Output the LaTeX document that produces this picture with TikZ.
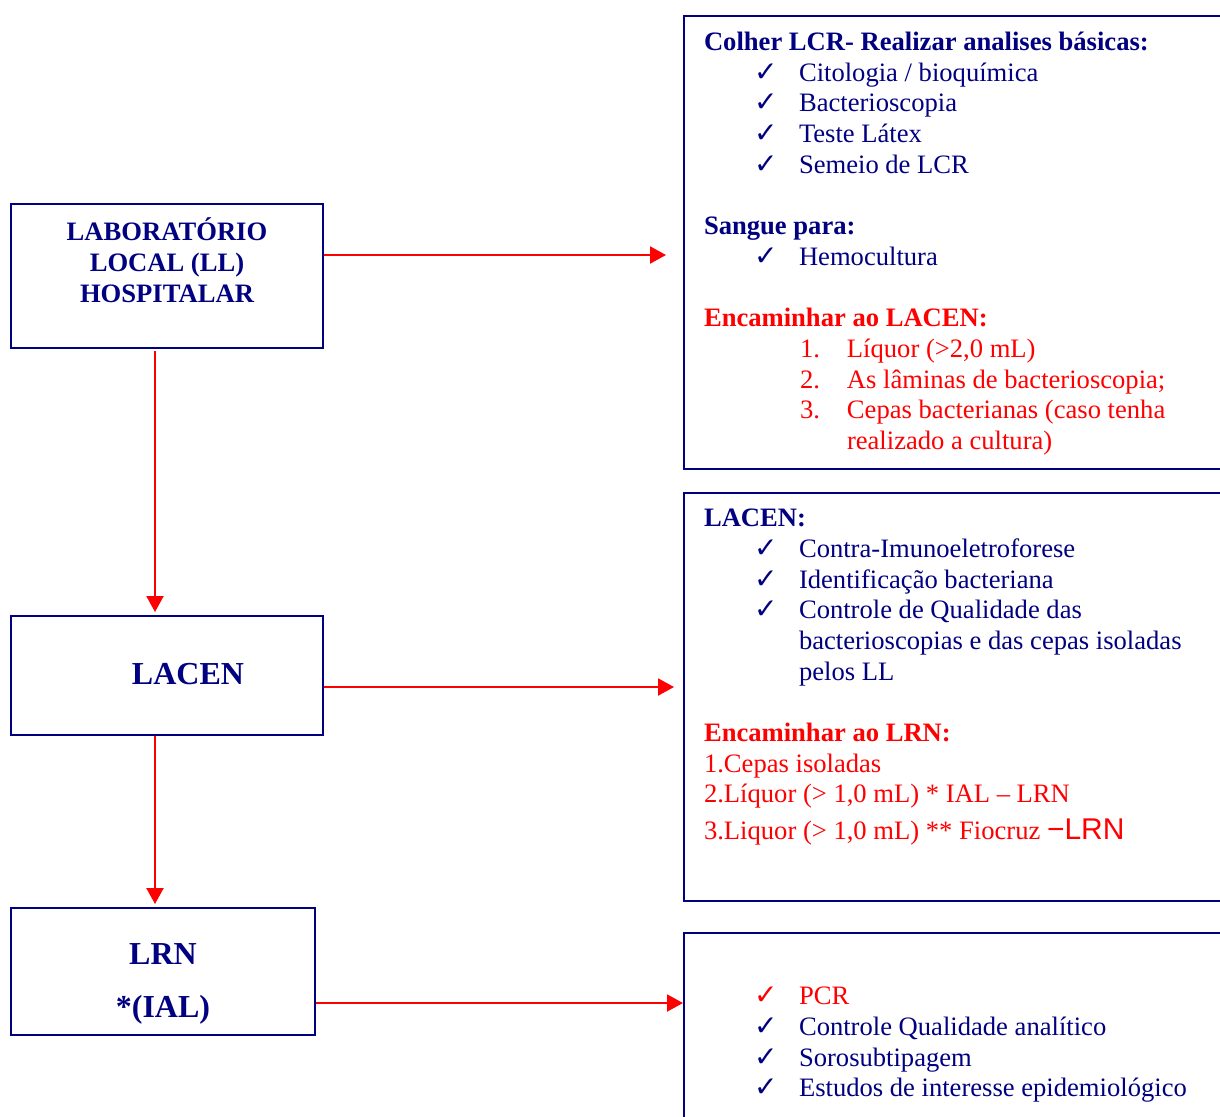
\documentclass[tikz,border=0pt]{standalone}
\usepackage{fontspec}
\setmainfont{Liberation Serif}
\setsansfont{Liberation Sans}
\newfontfamily\symfont{DejaVu Sans}
\usepackage{tikz}
\usetikzlibrary{
  positioning,
  arrows.meta
}
\definecolor{labnavy}{RGB}{0,0,128}
\definecolor{labred}{RGB}{255,0,0}
\newcommand{\ck}[1]{\hspace*{25pt}\makebox[22.5pt][l]{{\symfont\fontsize{14pt}{15pt}\selectfont ✓}}#1}
\newcommand{\nmb}[2]{\hspace*{48pt}\makebox[23.5pt][l]{#1}#2}
\tikzset{
  labbox/.style={draw=labnavy, line width=1pt, rectangle, inner sep=0pt, text=labnavy,
    font=\fontsize{13.3pt}{15.35pt}\selectfont\bfseries},
  infobox/.style={draw=labnavy, line width=1pt, rectangle, anchor=north west,
    inner xsep=10pt, inner ysep=8pt, text=labnavy,
    font=\fontsize{13.3pt}{15.35pt}\selectfont},
  flow/.style={draw=labred, line width=1pt, -{Triangle[length=8pt,width=8.5pt]}}
}

\begin{document}
\begin{tikzpicture}[x=0.5pt,y=-0.5pt]
                \useasboundingbox (0,0) rectangle (1220,1116);
                \clip (0,0) rectangle (1220,1116);
                \node[labbox, minimum width=156pt, minimum height=72pt] (ll) at (167,276)
                  {\parbox[c][72pt][t]{156pt}{\centering\vspace*{7pt}LABORAT\'ORIO\\LOCAL (LL)\\HOSPITALAR}};
                \node[labbox, minimum width=156pt, minimum height=59.5pt, text depth=2pt,
                  font=\fontsize{16pt}{18.4pt}\selectfont\bfseries] (lacen) at (167,675.5) {\hspace*{21pt}LACEN};
                \node[labbox, minimum width=152pt, minimum height=63.5pt] (lrn) at (163,971.5)
                  {\parbox[c][63.5pt][t]{152pt}{\centering\fontsize{16pt}{18.4pt}\selectfont\vspace*{18pt}LRN\\[8.1pt]*(IAL)}};
                \node[infobox] (info1) at (683,15) {\parbox[c][210.5pt][t]{259pt}{\raggedright
                  \textbf{Colher LCR- Realizar analises básicas:}\\
                  \ck{Citologia / bioquímica}\\
                  \ck{Bacterioscopia}\\
                  \ck{Teste Látex}\\
                  \ck{Semeio de LCR}\\[\baselineskip]
                  \textbf{Sangue para:}\\
                  \ck{Hemocultura}\\[\baselineskip]
                  {\color{labred}\textbf{Encaminhar ao LACEN:}\\
                  \nmb{1.}{Líquor (>2,0 mL)}\\
                  \nmb{2.}{As lâminas de bacterioscopia;}\\
                  \nmb{3.}{Cepas bacterianas (caso tenha}\\
                  \hspace*{71.5pt}realizado a cultura)}}};
                \node[infobox] (info2) at (683,492) {\parbox[c][188pt][t]{259pt}{\raggedright
                  \textbf{LACEN:}\\
                  \ck{Contra-Imunoeletroforese}\\
                  \ck{Identificação bacteriana}\\
                  \ck{Controle de Qualidade das}\\
                  \hspace*{47.5pt}bacterioscopias e das cepas isoladas\\
                  \hspace*{47.5pt}pelos LL\\[\baselineskip]
                  {\color{labred}\textbf{Encaminhar ao LRN:}\\
                  1.Cepas isoladas\\
                  2.Líquor (> 1,0 mL) * IAL – LRN\\[3pt]
                  3.Liquor (> 1,0 mL) ** Fiocruz {\sffamily\fontsize{15pt}{17pt}\selectfont −LRN}}}};
                \node[infobox] (info3) at (683,932) {\parbox[c][84pt][t]{259pt}{\raggedright
                  \vspace*{19pt}
                  {\color{labred}\ck{PCR}}\\
                  \ck{Controle Qualidade analítico}\\
                  \ck{Sorosubtipagem}\\
                  \ck{Estudos de interesse epidemiológico}}};
                \coordinate (row1) at (0,255);
                \coordinate (row2) at (0,687);
                \coordinate (row3) at (0,1003);
                \coordinate (col) at (155,0);
                \draw[flow, shorten >=8.5pt] (ll.east |- row1) -- (info1.west |- row1);
                \draw[flow, shorten >=4.5pt] (lacen.east |- row2) -- (info2.west |- row2);
                \draw[flow] (lrn.east |- row3) -- (info3.west |- row3);
                \draw[flow, shorten <=1pt, shorten >=1.5pt] (ll.south -| col) -- (lacen.north -| col);
                \draw[flow, shorten >=1.5pt] (lacen.south -| col) -- (lrn.north -| col);
            \end{tikzpicture}
\end{document}
